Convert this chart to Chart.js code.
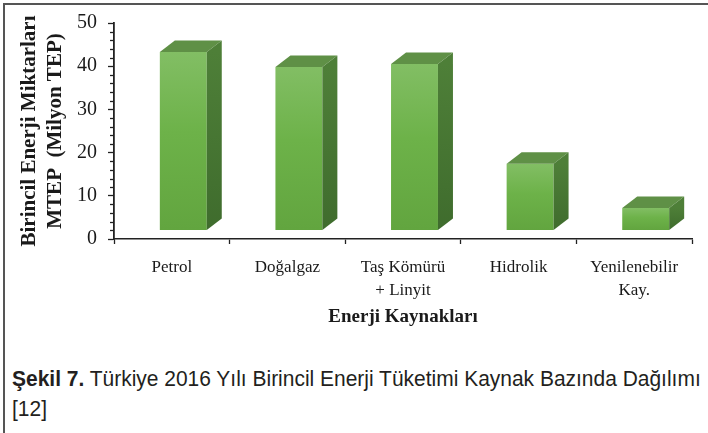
<!DOCTYPE html>
<html>
<head>
<meta charset="utf-8">
<script src="https://cdn.jsdelivr.net/npm/chart.js@4.4.1/dist/chart.umd.min.js"></script>
<style>
  html, body { margin: 0; padding: 0; background: #fff; }
  #page { position: relative; width: 708px; height: 433px; overflow: hidden; }
  #frame { position: absolute; left: 3px; top: 3px; right: -10px; bottom: -10px;
           border-top: 2px solid #555; border-left: 2px solid #555; }
  #box { position: absolute; left: 0; top: 0; width: 708px; height: 345px; }
  #caption { position: absolute; left: 12px; top: 364px; color: #231f20; white-space: nowrap;
             font-family: "Liberation Sans", Arial, sans-serif;
             font-size: 22px; line-height: 30px;
             transform: scaleX(0.953); transform-origin: 0 0; }
</style>
</head>
<body>
<div id="page">
  <div id="frame"></div>
  <div id="box"><canvas id="chart"></canvas></div>
  <div id="caption"><b>Şekil 7.</b> Türkiye 2016 Yılı Birincil Enerji Tüketimi Kaynak Bazında Dağılımı<br>[12]</div>
</div>
<script>
/* ------------------------------- Data -------------------------------*/

const categories = ["Petrol", "Doğalgaz", ["Taş Kömürü", "+ Linyit"], "Hidrolik", ["Yenilenebilir", "Kay."]];
const values = [43.3, 39.8, 40.5, 17.4, 7.2];           // Milyon TEP
const yTickMin = 0;
const yTickMax = 50;
const yTickStep = 10;
const yMinorStep = 2;

const yTitle = ["Birincil Enerji Miktarları", "MTEP  (Milyon TEP)"];
const xTitle = "Enerji Kaynakları";

/* ------------------------------- 3D look -------------------------------*/

const floorValue = 2.1;         // 3B zemin, çubuklar eksenin biraz üstünden başlar
const depthX = 15;
const depthY = -11.5;
const shiftX = 11.5;

function frontGradient(context) {
    var chart = context.chart;
    if (!chart.chartArea) return '#6cb047';
    var y = chart.scales.y;
    var top = y.getPixelForValue(values[context.dataIndex]);
    var bottom = y.getPixelForValue(floorValue);
    var g = chart.ctx.createLinearGradient(0, top, 0, bottom);
    g.addColorStop(0, '#82be64');
    g.addColorStop(0.45, '#6db249');
    g.addColorStop(1, '#62a53f');
    return g;
}

const bar3d = {
    id: 'bar3d',
    beforeDatasetsDraw(chart) {
        chart.ctx.save();
        chart.ctx.translate(shiftX, 0);
    },
    afterDatasetsDraw(chart) {
        var ctx = chart.ctx;
        chart.getDatasetMeta(0).data.forEach(function (bar) {
            var p = bar.getProps(['x', 'y', 'base', 'width'], true);
            var left = p.x - p.width / 2, right = p.x + p.width / 2;
            var top = p.y, bottom = p.base;

            // üst yüz
            ctx.beginPath();
            ctx.moveTo(left, top);
            ctx.lineTo(left + depthX, top + depthY);
            ctx.lineTo(right + depthX, top + depthY);
            ctx.lineTo(right, top);
            ctx.closePath();
            ctx.fillStyle = '#5f9046';
            ctx.fill();

            // yan yüz
            var g = ctx.createLinearGradient(0, top, 0, bottom);
            g.addColorStop(0, '#4e7f38');
            g.addColorStop(1, '#3f6c2d');
            ctx.beginPath();
            ctx.moveTo(right, top);
            ctx.lineTo(right + depthX, top + depthY);
            ctx.lineTo(right + depthX, bottom + depthY);
            ctx.lineTo(right, bottom);
            ctx.closePath();
            ctx.fillStyle = g;
            ctx.fill();
        });
        ctx.restore();
    }
};

const minorTicks = {
    id: 'minorTicks',
    afterDraw(chart) {
        var ctx = chart.ctx;
        var y = chart.scales.y;
        var x0 = chart.chartArea.left;
        ctx.save();
        ctx.strokeStyle = '#222';
        ctx.lineWidth = 1.3;
        for (let v = yTickMin; v <= yTickMax; v += yMinorStep) {
            if (v % yTickStep == 0) continue;
            var py = Math.round(y.getPixelForValue(v)) + 0.5;
            ctx.beginPath();
            ctx.moveTo(x0 - 4, py);
            ctx.lineTo(x0, py);
            ctx.stroke();
        }
        ctx.restore();
    }
};

/* ------------------------------- Chart -------------------------------*/

const serif = "'Liberation Serif', 'Times New Roman', serif";

new Chart(document.getElementById('chart'), {
    type: 'bar',
    data: {
        labels: categories,
        datasets: [{
            data: values,
            base: floorValue,
            backgroundColor: frontGradient,
            borderWidth: 0,
            categoryPercentage: 1,
            barPercentage: 0.406
        }]
    },
    options: {
        responsive: true,
        maintainAspectRatio: false,
        animation: false,
        layout: { padding: { top: 23, right: 16, bottom: 0, left: 0 } },
        plugins: {
            legend: { display: false },
            tooltip: { enabled: false }
        },
        scales: {
            x: {
                grid: { drawOnChartArea: false, tickLength: 5, tickColor: '#222', tickWidth: 1.3 },
                border: { color: '#222', width: 1.6 },
                ticks: { color: '#1a1a1a', padding: 12, maxRotation: 0,
                         font: { family: serif, size: 17, lineHeight: 1.35 } },
                title: { display: true, text: xTitle, color: '#1a1a1a',
                         padding: { top: 0, bottom: 17 },
                         font: { family: serif, size: 19, weight: 'bold', lineHeight: 1.2 } },
                afterFit(scale) { scale.height = 106; }
            },
            y: {
                min: yTickMin,
                max: yTickMax,
                grid: { drawOnChartArea: false, tickLength: 6, tickColor: '#222', tickWidth: 1.3 },
                border: { color: '#222', width: 1.8 },
                ticks: { stepSize: yTickStep, color: '#1a1a1a', padding: 11,
                         font: { family: serif, size: 20 } },
                title: { display: true, text: yTitle, color: '#1a1a1a',
                         padding: { top: 17, bottom: 0 },
                         font: { family: serif, size: 21, weight: 'bold', lineHeight: 1.24 } },
                afterFit(scale) { scale.width = 114; }
            }
        }
    },
    plugins: [bar3d, minorTicks]
});
</script>
</body>
</html>
